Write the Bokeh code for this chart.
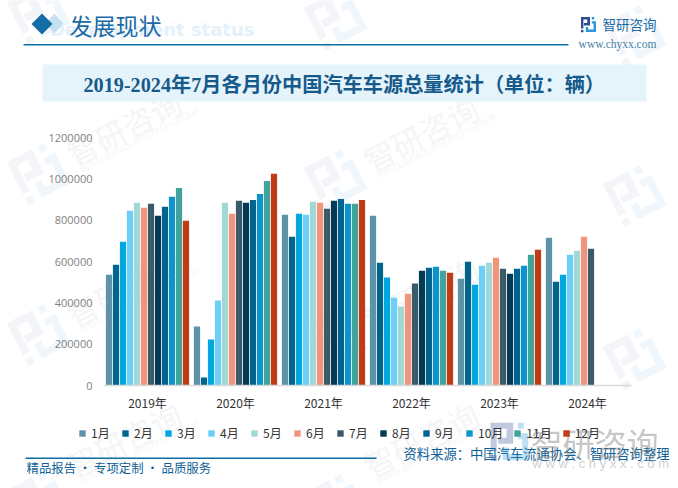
import math
from bokeh.plotting import figure
from bokeh.embed import file_html
from bokeh.layouts import column
from bokeh.resources import INLINE
from bokeh.models import (ColumnDataSource, FactorRange, Legend, LegendItem, Label,
                          BoxAnnotation, PolyAnnotation, FixedTicker)
from bokeh.transform import dodge

years = ["2019年", "2020年", "2021年", "2022年", "2023年", "2024年"]
months = ["1月", "2月", "3月", "4月", "5月", "6月", "7月", "8月", "9月", "10月", "11月", "12月"]
colors = ["#5E92A9", "#02638B", "#00A7E0", "#6DCFF6", "#A1D8D5", "#F0957C",
          "#3A5A68", "#023B53", "#00648F", "#0E93CB", "#42A29C", "#C13B17"]
v2019 = [536000, 584000, 696000, 845000, 884000, 860000, 879000, 821000, 865000, 913000, 956000, 797000]
v2020 = [285000, 39000, 222000, 411000, 884000, 831000, 894000, 884000, 898000, 927000, 990000, 1024000]
v2021 = [826000, 720000, 831000, 826000, 889000, 884000, 855000, 894000, 903000, 879000, 879000, 898000]
v2022 = [821000, 594000, 522000, 425000, 382000, 444000, 493000, 555000, 570000, 575000, 555000, 546000]
v2023 = [517000, 599000, 488000, 580000, 594000, 618000, 565000, 541000, 565000, 580000, 633000, 657000]
v2024 = [715000, 502000, 536000, 633000, 652000, 720000, 662000, None, None, None, None, None]
y_ticks = [0, 200000, 400000, 600000, 800000, 1000000, 1200000]

CJK = "Noto Sans CJK SC"
W, H = 678, 488

table = [v2019, v2020, v2021, v2022, v2023, v2024]
data = {"year": years}
for m_i, m in enumerate(months):
    data[m] = [float("nan") if row[m_i] is None else row[m_i] for row in table]
source = ColumnDataSource(data)


def decor_figure(**kw):
    f = figure(width=W, height=H, x_range=(0, W), y_range=(H, 0), output_backend="svg",
               toolbar_location=None, min_border=0, x_axis_location=None, y_axis_location=None,
               background_fill_color=None, border_fill_color=None, outline_line_color=None,
               frame_align=False, margin=(-H, 0, 0, 0), **kw)
    f.xgrid.visible = False
    f.ygrid.visible = False
    return f


def box(f, x0, y0, x1, y1, color, alpha=1.0):
    f.add_layout(BoxAnnotation(left=x0, right=x1, top=y0, bottom=y1,
                               left_units="canvas", right_units="canvas",
                               top_units="canvas", bottom_units="canvas",
                               fill_color=color, fill_alpha=alpha, line_color=None, editable=False))


def poly(f, pts, color, alpha=1.0):
    f.add_layout(PolyAnnotation(xs=[a for a, _ in pts], ys=[b for _, b in pts],
                                xs_units="canvas", ys_units="canvas",
                                fill_color=color, fill_alpha=alpha, line_color=None))


def label(f, x, y, text, size, color, font=CJK, style="normal", align="left", base="middle",
          angle=0.0, alpha=1.0):
    f.add_layout(Label(x=x, y=y, x_units="canvas", y_units="canvas", text=text,
                       text_font=font, text_font_size=f"{size}px", text_font_style=style,
                       text_color=color, text_align=align, text_baseline=base, angle=angle,
                       text_alpha=alpha))


LOGO_A = [[(0, 0), (30, 0), (30, 28), (10, 28), (10, 20), (21, 20), (21, 8), (8, 8), (8, 38), (0, 38)],
          [(0, 43), (8, 43), (8, 51), (0, 51)]]
LOGO_B = [[(36, 0), (44, 0), (44, 8), (36, 8)],
          [(36, 14), (50, 14), (50, 50), (16, 50), (16, 33), (24, 33), (24, 42), (42, 42), (42, 22), (36, 22)]]


def logo(f, cx, cy, scale, deg, c_a, c_b, alpha=1.0):
    t = math.radians(deg)
    for shapes, col in ((LOGO_A, c_a), (LOGO_B, c_b)):
        for sh in shapes:
            pts = []
            for u, w in sh:
                a, b = (u - 25) * scale, (w - 25) * scale
                pts.append((cx + a * math.cos(t) + b * math.sin(t), cy - a * math.sin(t) + b * math.cos(t)))
            poly(f, pts, col, alpha=alpha)


# ---------- chart figure (first in the column, drawn over the background through z-index)
p = figure(width=W, height=H, x_range=FactorRange(*years, range_padding=0, factor_padding=0),
           y_range=(0, 1200000), output_backend="svg", toolbar_location=None,
           min_border_left=103, min_border_right=678 - 631, min_border_top=137, min_border_bottom=488 - 385,
           background_fill_color=None, border_fill_color=None, outline_line_color=None,
           frame_align=False)
for i, m in enumerate(months):
    p.vbar(x=dodge("year", (i - 5.5) * 7.0 / 88.0, range=p.x_range), top=m, width=6.2 / 88.0,
           bottom=0, source=source, fill_color=colors[i], line_color=None)

p.xgrid.visible = False
p.ygrid.visible = False
p.xaxis.axis_line_color = "#D9D9D9"
p.xaxis.axis_line_width = 1.5
p.xaxis.major_tick_line_color = None
p.xaxis.minor_tick_line_color = None
p.xaxis.major_label_text_font = CJK
p.xaxis.major_label_text_font_size = "12px"
p.xaxis.major_label_text_color = "#333333"
p.xaxis.major_label_standoff = 2
p.yaxis.axis_line_color = None
p.yaxis.major_tick_line_color = None
p.yaxis.minor_tick_line_color = None
p.yaxis.ticker = FixedTicker(ticks=y_ticks)
p.yaxis.major_label_overrides = {t: str(t) for t in y_ticks}
p.yaxis.major_label_text_font = "Open Sans"
p.yaxis.major_label_text_font_size = "11px"
p.yaxis.major_label_text_color = "#7F7F7F"
p.yaxis.major_label_standoff = 5

# ---------- background figure
bg = decor_figure(styles={"z-index": "-1"})
icon_marks = [(38, 12), (38, 172), (38, 333), (38, 500), (335, 18), (335, 178), (335, 338), (335, 503),
              (634, 34), (634, 194), (634, 357)]
text_marks = [(38, 172), (38, 333), (38, 484), (335, 178), (335, 338), (335, 484)]
A27 = math.radians(27)
for cx, cy in icon_marks:
    logo(bg, cx, cy, 0.95, 27, "#F3F5F8", "#F0F7FC")
for cx, cy in text_marks:
    label(bg, cx + 30, cy - 17, "智研咨询", 31, "#F4F5F7", angle=A27)
    label(bg, cx + 42, cy - 3, "INTELLIGENCE RESEARCH GROUP", 8.5, "#F4F5F7", font="Open Sans", angle=A27)

label(bg, 254, 29, "Development status", 18, "#E4F1FA", font="DejaVu Sans", style="bold", align="right")
poly(bg, [(54, 13), (63, 23), (54, 33), (45, 23)], "#C6E0F0")
poly(bg, [(41.5, 13), (52, 23.5), (41.5, 34), (31, 23.5)], "#136DA6")
label(bg, 69, 24, "发展现状", 23, "#1B6AA5")
box(bg, 23, 43.5, 568, 45, "#0F6CA6")
logo(bg, 588, 24, 0.3, 0, "#2F4B8F", "#2A96D6")
label(bg, 602, 23, "智研咨询", 13.5, "#1B6AA5")
label(bg, 617, 43, "www.chyxx.com", 11.5, "#4A7FA5", font="Liberation Serif", align="center")
box(bg, 42, 64, 646, 101, "#E5F3FB")
label(bg, 83, 84, "2019-2024年7月各月份中国汽车车源总量统计（单位：辆）", 20.2, "#155A8A",
      font="Liberation Serif, Noto Sans CJK SC", style="bold")
box(bg, 25, 457, 376, 458.5, "#0F6CA6")
label(bg, 26, 467, "精品报告 · 专项定制 · 品质服务", 12.4, "#0F5F97")

# ---------- foreground figure: legend keys and the overlaid source line
fg = decor_figure()
items = []
for i, m in enumerate(months):
    key = fg.vbar(x=[0], top=[0], bottom=[0], width=0, fill_color=colors[i], line_color=None)
    items.append(LegendItem(label=m, renderers=[key]))
legend = Legend(items=items, orientation="horizontal", location=(78, H - 441),
                glyph_width=8, glyph_height=8, label_standoff=5, spacing=10, padding=0, margin=0,
                background_fill_alpha=0, border_line_color=None,
                label_text_font=CJK, label_text_font_size="12px", label_text_color="#333333",
                label_height=12)
fg.add_layout(legend, "center")
label(fg, 669, 453, "资料来源：中国汽车流通协会、智研咨询整理", 13.3, "#0F5F97", align="right")
logo(fg, 509, 441, 0.75, 0, "#2F4B8F", "#2A96D6", alpha=0.3)
label(fg, 530, 441, "智研咨询", 32, "#808080", alpha=0.45)
label(fg, 532, 463, "w w w . c h y x x . c o m", 13, "#808080", font="Liberation Sans", alpha=0.4)

page = column(p, bg, fg, spacing=0, margin=0)
open("out.html", "w").write(file_html(page, INLINE))
